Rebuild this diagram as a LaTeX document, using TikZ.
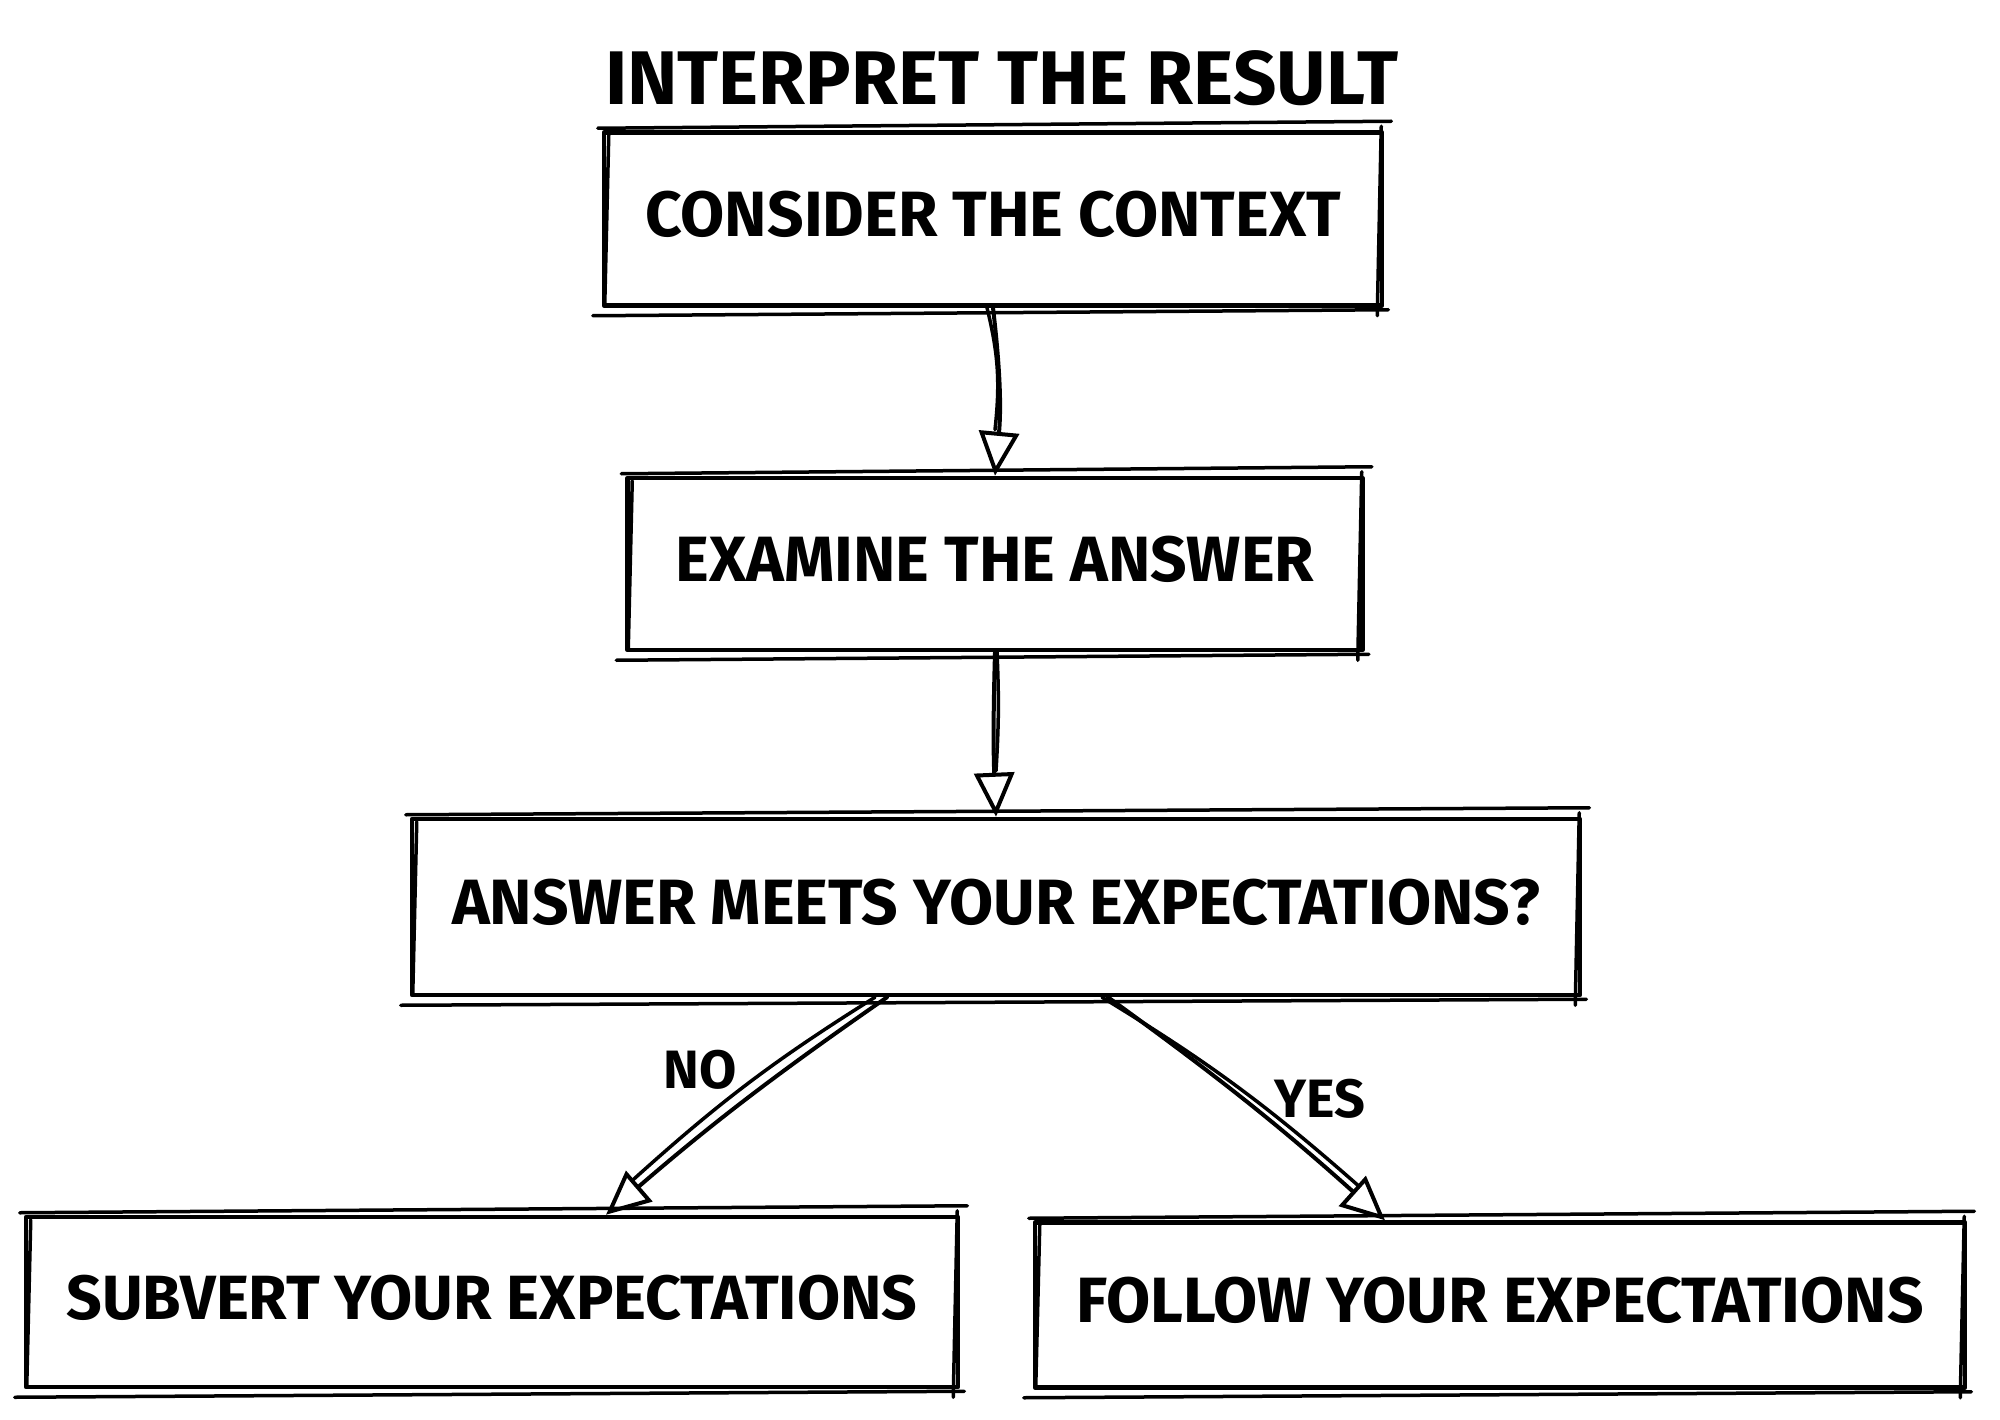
\documentclass[tikz,border=0pt]{standalone}
\usepackage{fontspec}
\setmainfont{Fira Sans}
\usetikzlibrary{arrows.meta,calc}
\newcommand\roughbox[1]{%
  \draw[sk] ($(#1.north west)+(-4,-2)$) -- ($(#1.north east)+(7,-9)$);
  \draw[sk] ($(#1.south west)+(-9,8)$) -- ($(#1.south east)+(4,2)$);
  \draw[sk] ($(#1.north west)+(7,5)$) -- ($(#1.south west)+(3,-3)$);
  \draw[sk] ($(#1.north east)+(-3,-4)$) -- ($(#1.south east)+(-7,8)$);
}
\begin{document}
\begin{tikzpicture}[x=1pt,y=-1pt,
  line join=round, line cap=round,
  box/.style={draw, line width=4.5pt, font=\fontsize{64}{70}\selectfont\bfseries,
    text depth=10pt, inner sep=0pt},
  sk/.style={line width=3.5pt},
  arr/.style={line width=4pt, -{Triangle[open,length=44pt,width=40pt]}},
  sarr/.style={line width=3.5pt},
  lbl/.style={font=\fontsize{54}{60}\selectfont\bfseries, inner sep=0pt},
  ttl/.style={font=\fontsize{76}{84}\selectfont\bfseries, inner sep=0pt}]
\fill[white] (0,0) rectangle (2000,1420);
\useasboundingbox (0,0) rectangle (2000,1420);

\node[ttl] (title) at (1002,78) {INTERPRET THE RESULT};

\node[box, minimum width=778pt, minimum height=173pt] (b1) at (993,219) {CONSIDER THE CONTEXT};
\node[box, minimum width=735pt, minimum height=172pt] (b2) at (995,564) {EXAMINE THE ANSWER};
\node[box, minimum width=1168pt, minimum height=176pt] (b3) at (996,907) {ANSWER MEETS YOUR EXPECTATIONS?};
\node[box, minimum width=932pt, minimum height=170pt, font=\fontsize{62.5}{70}\selectfont\bfseries] (b4) at (492,1302) {SUBVERT YOUR EXPECTATIONS};
\node[box, minimum width=930pt, minimum height=165pt] (b5) at (1500,1305) {FOLLOW YOUR EXPECTATIONS};

\roughbox{b1}
\roughbox{b2}
\roughbox{b3}
\roughbox{b4}
\roughbox{b5}

% connectors
\draw[arr] (b1.south) to[bend left=6] (b2.north);
\draw[sarr] ([xshift=-6pt]b1.south) to[bend left=10] ([yshift=46pt]b2.north);

\draw[arr] (b2.south) to[bend right=2] (b3.north);
\draw[sarr] ([xshift=2pt]b2.south) to[bend left=3] ([yshift=46pt]b3.north);

\coordinate (noS) at ([xshift=-109pt]b3.south);
\coordinate (noE) at ([xshift=114pt]b4.north);
\draw[arr] (noS) to[bend right=3] (noE);
\draw[sarr] ([xshift=-12pt]noS) to[bend right=5] ($(noE)+(26,-34)$);

\coordinate (yesS) at ([xshift=112pt]b3.south);
\coordinate (yesE) at ([xshift=-115pt]b5.north);
\draw[arr] (yesS) to[bend left=3] (yesE);
\draw[sarr] ([xshift=-6pt]yesS) to[bend left=5] ($(yesE)+(-26,-34)$);

\node[lbl] (no) at (700,1070) {NO};
\node[lbl] (yes) at (1320,1099) {YES};
\end{tikzpicture}
\end{document}
